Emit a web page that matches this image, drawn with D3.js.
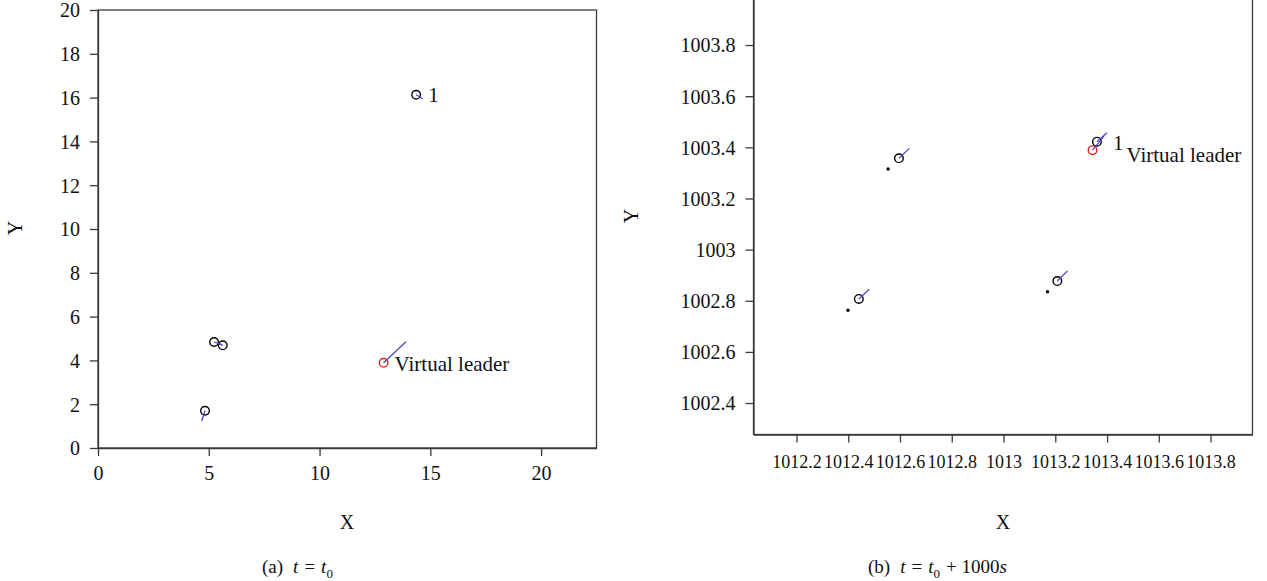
<!DOCTYPE html>
<html><head><meta charset="utf-8">
<script src="https://cdn.jsdelivr.net/npm/d3@7"></script>
<style>
html,body{margin:0;padding:0;background:#fff;}
svg{display:block;font-family:"Liberation Serif","DejaVu Serif",serif;}
</style></head>
<body><svg id="c" width="1267" height="581"></svg>
<script>
// ---- Panel (a): t = t0 ----
const leftXTicks = [0, 5, 10, 15, 20];
const leftYTicks = [0, 2, 4, 6, 8, 10, 12, 14, 16, 18, 20];
const leftAgentX = [14.36, 5.24, 5.63, 4.83];
const leftAgentY = [16.13, 4.84, 4.69, 1.70];
const leftVelX = [0.30, 0.36, -0.22, -0.15];
const leftVelY = [-0.18, -0.12, 0.10, -0.47];
const leftAgentLabel = ["1", "", "", ""];
const leftLeaderX = [12.89];
const leftLeaderY = [3.89];
const leftLeaderVX = [1.01];
const leftLeaderVY = [0.96];

// ---- Panel (b): t = t0 + 1000s ----
const rightXTicks = [1012.2, 1012.4, 1012.6, 1012.8, 1013, 1013.2, 1013.4, 1013.6, 1013.8];
const rightYTicks = [1002.4, 1002.6, 1002.8, 1003, 1003.2, 1003.4, 1003.6, 1003.8];
const rightAgentX = [1013.361, 1012.596, 1012.441, 1013.208];
const rightAgentY = [1003.422, 1003.357, 1002.807, 1002.877];
const rightVelX = [0.039, 0.040, 0.040, 0.039];
const rightVelY = [0.035, 0.039, 0.038, 0.040];
const rightAgentLabel = ["1", "", "", ""];
const rightDotX = [1012.554, 1012.399, 1013.170];
const rightDotY = [1003.315, 1002.763, 1002.835];
const rightLeaderX = [1013.344];
const rightLeaderY = [1003.389];
const rightLeaderVX = [0.044];
const rightLeaderVY = [0.055];

const svg = d3.select("#c");
const AXIS = "#3a3a3a", BLUE = "#4a4ac4", RED = "#e3241b", INK = "#111";

function panel(cfg){
  const g = svg.append("g");
  const x = d3.scaleLinear().domain(cfg.xDomain).range(cfg.xRange);
  const y = d3.scaleLinear().domain(cfg.yDomain).range(cfg.yRange);
  const [x0, x1] = cfg.xRange, [yb, yt] = cfg.yRange;

  g.append("rect").attr("x", x0).attr("y", yt).attr("width", x1 - x0).attr("height", yb - yt)
    .attr("fill", "none").attr("stroke", AXIS).attr("stroke-width", 1.3);

  const fmt = v => String(v);
  const ax = g.append("g").attr("transform", `translate(0,${yb})`)
    .call(d3.axisBottom(x).tickValues(cfg.xTicks).tickFormat(fmt).tickSize(8).tickSizeOuter(0).tickPadding(cfg.xPad));
  const ay = g.append("g").attr("transform", `translate(${x0},0)`)
    .call(d3.axisLeft(y).tickValues(cfg.yTicks).tickFormat(fmt).tickSize(8).tickSizeOuter(0).tickPadding(10));
  [ax, ay].forEach(a => {
    a.select(".domain").attr("stroke", AXIS).attr("stroke-width", 1.3);
    a.selectAll(".tick line").attr("stroke", AXIS).attr("stroke-width", 1.3);
    a.selectAll(".tick text").attr("fill", INK).attr("font-family", "Liberation Serif, serif");
  });
  ax.selectAll(".tick text").attr("font-size", cfg.xFont);
  ay.selectAll(".tick text").attr("font-size", cfg.yFont).attr("dy", "0.34em");

  g.append("text").attr("x", cfg.xTitle[0]).attr("y", cfg.xTitle[1]).attr("text-anchor", "middle")
    .attr("font-size", 20).attr("fill", INK).text("X");
  g.append("text").attr("transform", `translate(${cfg.yTitle[0]},${cfg.yTitle[1]}) rotate(-90)`)
    .attr("text-anchor", "middle").attr("font-size", 20).attr("fill", INK).text("Y");

  const plot = g.append("g");
  plot.selectAll("circle.dot").data(d3.range(cfg.dotX.length)).join("circle").attr("class", "dot")
    .attr("cx", i => x(cfg.dotX[i])).attr("cy", i => y(cfg.dotY[i])).attr("r", 1.7).attr("fill", "#000");
  const L = d3.range(cfg.leaderX.length);
  plot.selectAll("circle.leader").data(L).join("circle").attr("class", "leader")
    .attr("cx", i => x(cfg.leaderX[i])).attr("cy", i => y(cfg.leaderY[i])).attr("r", 4.3)
    .attr("fill", "none").attr("stroke", RED).attr("stroke-width", 1.4);
  const A = d3.range(cfg.agentX.length);
  plot.selectAll("circle.agent").data(A).join("circle").attr("class", "agent")
    .attr("cx", i => x(cfg.agentX[i])).attr("cy", i => y(cfg.agentY[i])).attr("r", 4.3)
    .attr("fill", "none").attr("stroke", "#000").attr("stroke-width", 1.4);
  plot.selectAll("line.va").data(A).join("line").attr("class", "va")
    .attr("x1", i => x(cfg.agentX[i])).attr("y1", i => y(cfg.agentY[i]))
    .attr("x2", i => x(cfg.agentX[i] + cfg.velX[i])).attr("y2", i => y(cfg.agentY[i] + cfg.velY[i]))
    .attr("stroke", BLUE).attr("stroke-width", 1.3);
  plot.selectAll("line.vl").data(L).join("line").attr("class", "vl")
    .attr("x1", i => x(cfg.leaderX[i])).attr("y1", i => y(cfg.leaderY[i]))
    .attr("x2", i => x(cfg.leaderX[i] + cfg.leaderVX[i])).attr("y2", i => y(cfg.leaderY[i] + cfg.leaderVY[i]))
    .attr("stroke", BLUE).attr("stroke-width", 1.3);
  plot.selectAll("text.al").data(A.filter(i => cfg.agentLabel[i])).join("text").attr("class", "al")
    .attr("x", i => x(cfg.agentX[i]) + cfg.agentLabelOff[0]).attr("y", i => y(cfg.agentY[i]) + cfg.agentLabelOff[1])
    .attr("font-size", 21).attr("fill", INK).text(i => cfg.agentLabel[i]);
  plot.selectAll("text.ll").data(L).join("text").attr("class", "ll")
    .attr("x", i => x(cfg.leaderX[i]) + cfg.leaderLabelOff[0]).attr("y", i => y(cfg.leaderY[i]) + cfg.leaderLabelOff[1])
    .attr("font-size", 21).attr("fill", INK).text("Virtual leader");

  const cap = g.append("text").attr("x", cfg.caption[0]).attr("y", cfg.caption[1])
    .attr("font-size", 19).attr("fill", INK);
  cfg.captionParts.forEach(p => {
    const t = cap.append("tspan").text(p[0]);
    if (p[2]) t.attr("dx", p[2]);
    if (p[1] === "i") t.attr("font-style", "italic");
    if (p[1] === "sub") t.attr("font-size", 13).attr("dy", 5);
    if (p[1] === "up") t.attr("dy", -5);
  });
}

panel({
  xDomain: [0, 22.5], xRange: [98, 596.5],
  yDomain: [0, 20], yRange: [448, 10],
  xTicks: leftXTicks, yTicks: leftYTicks, xFont: 20, yFont: 20, xPad: 10,
  agentX: leftAgentX, agentY: leftAgentY, velX: leftVelX, velY: leftVelY, agentLabel: leftAgentLabel,
  agentLabelOff: [12, 7],
  leaderX: leftLeaderX, leaderY: leftLeaderY, leaderVX: leftLeaderVX, leaderVY: leftLeaderVY,
  leaderLabelOff: [11, 8],
  dotX: [], dotY: [],
  xTitle: [347, 529], yTitle: [22, 228],
  caption: [262, 573],
  captionParts: [["(a)", ""], ["t", "i", 10], ["=", "", 6], ["t", "i", 6], ["0", "sub"]]
});

panel({
  xDomain: [1012.034, 1013.962], xRange: [753.5, 1252.5],
  yDomain: [1002.277, 1003.984], yRange: [434.5, -2],
  xTicks: rightXTicks, yTicks: rightYTicks, xFont: 18, yFont: 20, xPad: 13,
  agentX: rightAgentX, agentY: rightAgentY, velX: rightVelX, velY: rightVelY, agentLabel: rightAgentLabel,
  agentLabelOff: [16, 8],
  leaderX: rightLeaderX, leaderY: rightLeaderY, leaderVX: rightLeaderVX, leaderVY: rightLeaderVY,
  leaderLabelOff: [34, 12],
  dotX: rightDotX, dotY: rightDotY,
  xTitle: [1003, 529], yTitle: [638, 216],
  caption: [868, 573],
  captionParts: [["(b)", ""], ["t", "i", 10], ["=", "", 6], ["t", "i", 6], ["0", "sub"], ["+ 1000", "up", 6], ["s", "i"]]
});
</script></body></html>
